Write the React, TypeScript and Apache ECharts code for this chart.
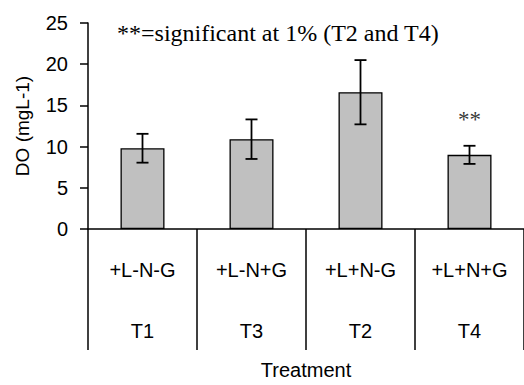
import React, { useEffect, useRef } from "react";
import * as echarts from "echarts";

const treatments = ["+L-N-G", "+L-N+G", "+L+N-G", "+L+N+G"];
const codes = ["T1", "T3", "T2", "T4"];
const doMeans = [9.8, 10.9, 16.6, 9.0];
const doErrors = [1.75, 2.4, 3.9, 1.1];
const yTicks = { min: 0, max: 25, interval: 5 };
const note = "**=significant at 1% (T2 and T4)";
const sigMark = "**";
const sigIndex = 3;

export default function App() {
  const ref = useRef<HTMLDivElement>(null);
  useEffect(() => {
    document.documentElement.style.margin = "0";
    document.documentElement.style.padding = "0";
    document.documentElement.style.overflow = "hidden";
    document.body.style.margin = "0";
    document.body.style.padding = "0";
    document.body.style.overflow = "hidden";
    if (!ref.current) return;
    const chart = echarts.init(ref.current, null, { renderer: "svg" });
    const errData = doMeans.map((m, i) => [i, m - doErrors[i], m + doErrors[i]]);
    const sans = "Liberation Sans, Arial, sans-serif";
    const serif = "Liberation Serif, Times New Roman, serif";
    chart.setOption({
      animation: false,
      backgroundColor: "#ffffff",
      grid: { left: 88, top: 23, right: -2, bottom: 149, containLabel: false },
      xAxis: [
        {
          type: "category",
          data: treatments,
          boundaryGap: true,
          axisLine: { show: true, lineStyle: { color: "#000", width: 1.5 } },
          axisTick: { show: true, length: 121, alignWithLabel: false, lineStyle: { color: "#000", width: 1.5 } },
          axisLabel: { color: "#000", fontFamily: sans, fontSize: 20, margin: 31 },
          name: "Treatment",
          nameLocation: "middle",
          nameGap: 131,
          nameTextStyle: { color: "#000", fontFamily: sans, fontSize: 20 },
          splitLine: { show: false },
        },
        {
          type: "category",
          data: codes,
          position: "bottom",
          boundaryGap: true,
          axisLine: { show: false },
          axisTick: { show: false },
          axisLabel: { color: "#000", fontFamily: sans, fontSize: 20, margin: 92 },
          splitLine: { show: false },
        },
      ],
      yAxis: {
        type: "value",
        min: yTicks.min,
        max: yTicks.max,
        interval: yTicks.interval,
        name: "DO (mgL-1)",
        nameLocation: "middle",
        nameGap: 56,
        nameTextStyle: { color: "#000", fontFamily: sans, fontSize: 19 },
        axisLine: { show: true, lineStyle: { color: "#000", width: 1.5 } },
        axisTick: { show: true, length: 8, lineStyle: { color: "#000", width: 1.5 } },
        axisLabel: { color: "#000", fontFamily: sans, fontSize: 20, margin: 20 },
        splitLine: { show: false },
      },
      series: [
        {
          type: "bar",
          data: doMeans,
          barWidth: 44,
          itemStyle: { color: "#c0c0c0", borderColor: "#000", borderWidth: 1.3 },
          z: 2,
        },
        {
          type: "custom",
          data: errData,
          z: 3,
          renderItem: (params: any, api: any) => {
            const i = api.value(0);
            const lo = api.coord([i, api.value(1)]);
            const hi = api.coord([i, api.value(2)]);
            const x = lo[0];
            const w = 6;
            const style = { stroke: "#000", lineWidth: 1.8 };
            return {
              type: "group",
              children: [
                { type: "line", shape: { x1: x, y1: hi[1], x2: x, y2: lo[1] }, style },
                { type: "line", shape: { x1: x - w, y1: hi[1], x2: x + w, y2: hi[1] }, style },
                { type: "line", shape: { x1: x - w, y1: lo[1], x2: x + w, y2: lo[1] }, style },
              ],
            };
          },
        },
        {
          type: "scatter",
          data: [[sigIndex, doMeans[sigIndex] + doErrors[sigIndex] + 3.2]],
          symbolSize: 0,
          label: {
            show: true,
            position: "inside",
            formatter: sigMark,
            color: "#000",
            fontFamily: serif,
            fontSize: 23,
          },
          z: 4,
        },
      ],
      graphic: [
        {
          type: "text",
          left: 117,
          top: 21,
          style: { text: note, fill: "#000", font: `24px ${serif}` },
        },
      ],
    });
    return () => chart.dispose();
  }, []);
  return <div ref={ref} style={{ width: 524, height: 385, overflow: "hidden" }} />;
}
